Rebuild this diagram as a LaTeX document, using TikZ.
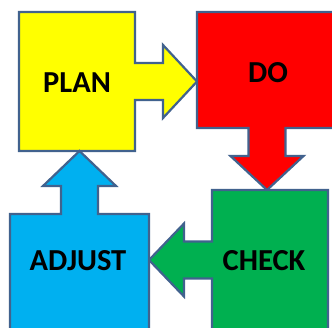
\documentclass[tikz,border=0pt]{standalone}
\usepackage{fontspec}
\setmainfont{Carlito}
\usetikzlibrary{positioning,calc}
\definecolor{cPlan}{HTML}{FFFF00}
\definecolor{cDo}{HTML}{FF0000}
\definecolor{cCheck}{HTML}{00B050}
\definecolor{cAdjust}{HTML}{00B0F0}
\definecolor{cEdge}{HTML}{41628E}

\begin{document}
\begin{tikzpicture}[x=1pt, y=1pt,
    cell/.style={rectangle, inner sep=0pt, outer sep=0pt},
    blockarrow/.style={draw=cEdge, line width=2.2pt, line join=miter},
    word/.style={font=\fontsize{30.5}{36}\selectfont\bfseries, text=black}]
  \clip (0,0) rectangle (332,327);
  \fill[white] (0,0) rectangle (332,327);
  % the four frames
  \node[cell, minimum width=116pt, minimum height=139pt] (plan)   at (77,245.5) {};
  \node[cell, minimum width=140pt, minimum height=116pt] (do)     at (267,257)  {};
  \node[cell, minimum width=116pt, minimum height=140pt] (check)  at (270,67)   {};
  \node[cell, minimum width=139pt, minimum height=126pt] (adjust) at (79.5,50)  {};
  % plan, arrow to the right
  \draw[blockarrow, fill=cPlan] (plan.north west) -- (plan.north east)
    -- ($(plan.east)+(0,18.5)$) -- ($(plan.east)+(28,18.5)$) -- ($(plan.east)+(28,36.5)$)
    -- (plan.east -| do.west)
    -- ($(plan.east)+(28,-36.5)$) -- ($(plan.east)+(28,-18.5)$) -- ($(plan.east)+(0,-18.5)$)
    -- (plan.south east) -- (plan.south west) -- cycle;
  % do, arrow down
  \draw[blockarrow, fill=cDo] (do.north west) -- (do.north east) -- (do.south east)
    -- ($(do.south)+(18.5,0)$) -- ($(do.south)+(18.5,-28)$) -- ($(do.south)+(36.5,-28)$)
    -- (do.south |- check.north)
    -- ($(do.south)+(-36.5,-28)$) -- ($(do.south)+(-18.5,-28)$) -- ($(do.south)+(-18.5,0)$)
    -- (do.south west) -- cycle;
  % check, arrow to the left
  \draw[blockarrow, fill=cCheck] (check.north west) -- (check.north east)
    -- (check.south east) -- (check.south west)
    -- ($(check.west)+(0,-18.5)$) -- ($(check.west)+(-28,-18.5)$) -- ($(check.west)+(-28,-36.5)$)
    -- (check.west -| adjust.east)
    -- ($(check.west)+(-28,36.5)$) -- ($(check.west)+(-28,18.5)$) -- ($(check.west)+(0,18.5)$)
    -- cycle;
  % adjust, arrow up
  \draw[blockarrow, fill=cAdjust] (adjust.north west)
    -- ($(adjust.north)+(-18.5,0)$) -- ($(adjust.north)+(-18.5,28)$) -- ($(adjust.north)+(-36.5,28)$)
    -- (adjust.north |- plan.south)
    -- ($(adjust.north)+(36.5,28)$) -- ($(adjust.north)+(18.5,28)$) -- ($(adjust.north)+(18.5,0)$)
    -- (adjust.north east) -- (adjust.south east) -- (adjust.south west) -- cycle;
  % labels
  \node[word] (planlbl)   at (77,244)  {PLAN};
  \node[word] (dolbl)     at (268,254) {DO};
  \node[word] (checklbl)  at (264,66)  {CHECK};
  \node[word] (adjustlbl) at (78,66)   {ADJUST};
\end{tikzpicture}
\end{document}
